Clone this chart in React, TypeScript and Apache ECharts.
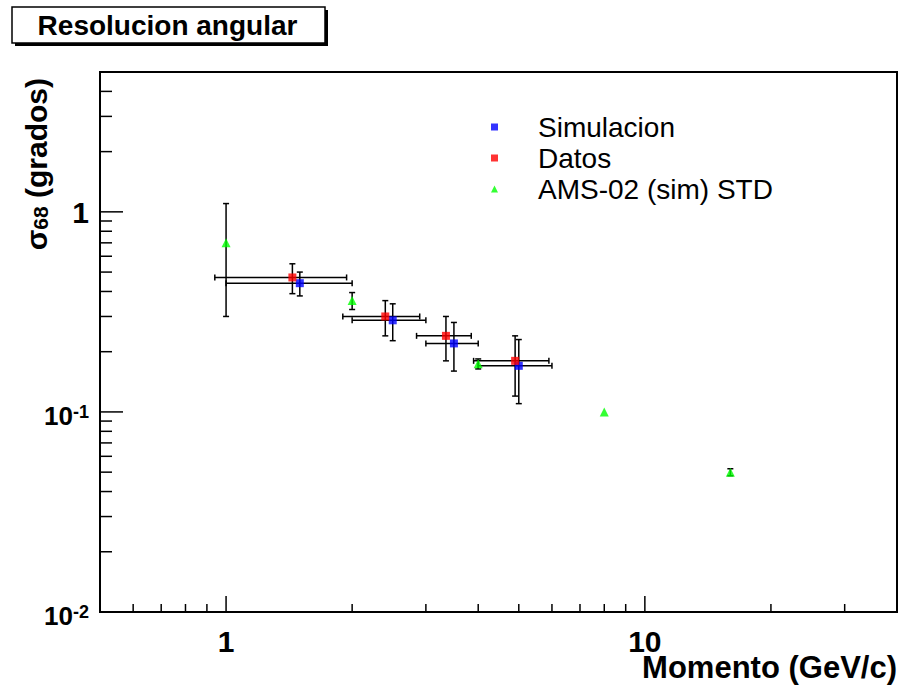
import React, { useEffect, useRef } from 'react';
import * as echarts from 'echarts';

// Axis ranges
const X_MIN = 0.5;
const X_MAX = 40;
const Y_MIN = 0.01;
const Y_MAX = 5;

// Simulacion
const simX = [1.5, 2.5, 3.5, 5];
const simY = [0.44, 0.287, 0.22, 0.17];
const simEx = [0.5, 0.5, 0.5, 1];
const simEy = [0.06, 0.06, 0.06, 0.06];

// Datos
const datX = [1.44, 2.4, 3.35, 4.9];
const datY = [0.47, 0.3, 0.24, 0.18];
const datEx = [0.5, 0.5, 0.5, 1.0];
const datEy = [0.08, 0.06, 0.06, 0.06];

// AMS-02 (sim) STD
const amsX = [1, 2, 4, 8, 16];
const amsY = [0.7, 0.36, 0.174, 0.1, 0.05];
const amsEx = [0, 0, 0, 0, 0];
const amsEy = [0.4, 0.035, 0.01, 0, 0.002];

// Ticks and labels
const xMajorTicks = [1, 10];
const xMinorTicks = [0.6, 0.7, 0.8, 0.9, 2, 3, 4, 5, 6, 7, 8, 9, 20, 30];
const yMajorTicks = [0.01, 0.1, 1];
const yMinorTicks = [0.02, 0.03, 0.04, 0.05, 0.06, 0.07, 0.08, 0.09, 0.2, 0.3, 0.4, 0.5, 0.6, 0.7, 0.8, 0.9, 2, 3, 4];
const xLabelValues = [1, 10];
const xLabelTexts = ['1', '10'];
const yLabelValues = [1, 0.1, 0.01];
const yLabelTexts = ['{m|1}', '{n|10}{s|-1}', '{n|10}{s|-2}'];

const FONT = "'Liberation Sans', Arial, Helvetica, sans-serif";

const zip4 = (a: number[], b: number[], c: number[], d: number[]) => a.map((v, i) => [v, b[i], c[i], d[i]]);

const seg = (x1: number, y1: number, x2: number, y2: number) => ({
  type: 'line',
  shape: { x1, y1, x2, y2 },
  style: { stroke: '#000', lineWidth: 1.5 },
});

const errRender = (_params: any, api: any) => {
  const x = api.value(0);
  const y = api.value(1);
  const ex = api.value(2);
  const ey = api.value(3);
  const c = api.coord([x, y]);
  const cap = 3;
  const ch: any[] = [];
  if (ex > 0) {
    const l = api.coord([x - ex, y])[0];
    const r = api.coord([x + ex, y])[0];
    ch.push(seg(l, c[1], r, c[1]));
    ch.push(seg(l, c[1] - cap, l, c[1] + cap));
    ch.push(seg(r, c[1] - cap, r, c[1] + cap));
  }
  if (ey > 0) {
    const t = api.coord([x, y + ey])[1];
    const b = api.coord([x, y - ey])[1];
    ch.push(seg(c[0], t, c[0], b));
    ch.push(seg(c[0] - cap, t, c[0] + cap, t));
    ch.push(seg(c[0] - cap, b, c[0] + cap, b));
  }
  return { type: 'group', children: ch };
};

const xTickRender = (len: number) => (_p: any, api: any) => {
  const p = api.coord([api.value(0), api.value(1)]);
  return seg(p[0], p[1], p[0], p[1] - len);
};
const yTickRender = (len: number) => (_p: any, api: any) => {
  const p = api.coord([api.value(0), api.value(1)]);
  return seg(p[0], p[1], p[0] + len, p[1]);
};

const labelText = (text: string, x: number, y: number, align: string, rich?: any, size = 30) => ({
  type: 'text',
  x,
  y,
  style: {
    text,
    fontFamily: FONT,
    fontWeight: 'bold',
    fontSize: size,
    fill: '#000',
    align,
    verticalAlign: 'middle',
    textAlign: align,
    textVerticalAlign: 'middle',
    rich,
  },
});

const yRich = {
  m: { fontFamily: FONT, fontWeight: 'bold', fontSize: 30, fill: '#000' },
  n: { fontFamily: FONT, fontWeight: 'bold', fontSize: 26, fill: '#000' },
  s: { fontFamily: FONT, fontWeight: 'bold', fontSize: 18, fill: '#000', verticalAlign: 'top' },
};

const buildOption = () => ({
  animation: false,
  backgroundColor: '#fff',
  grid: {
    left: 100,
    right: 5,
    top: 72,
    bottom: 73,
    show: true,
    borderColor: '#000',
    borderWidth: 2,
    backgroundColor: 'transparent',
    containLabel: false,
    outerBoundsMode: 'none',
  },
  xAxis: {
    type: 'log',
    logBase: 10,
    min: X_MIN,
    max: X_MAX,
    axisLine: { show: false },
    axisTick: { show: false },
    axisLabel: { show: false },
    splitLine: { show: false },
  },
  yAxis: {
    type: 'log',
    logBase: 10,
    min: Y_MIN,
    max: Y_MAX,
    axisLine: { show: false },
    axisTick: { show: false },
    axisLabel: { show: false },
    splitLine: { show: false },
  },
  legend: {
    orient: 'vertical',
    left: 486,
    top: 108,
    itemWidth: 7,
    itemHeight: 7,
    itemGap: 3,
    selectedMode: false,
    data: ['Simulacion', 'Datos', 'AMS-02 (sim) STD'],
    textStyle: { fontFamily: FONT, fontSize: 28, color: '#000', padding: [0, 0, 0, 35] },
  },
  graphic: [
    { type: 'rect', z: 10, shape: { x: 15, y: 10, width: 313, height: 36 }, style: { fill: '#000' } },
    { type: 'rect', z: 11, shape: { x: 12, y: 7, width: 313, height: 36 }, style: { fill: '#fff', stroke: '#000', lineWidth: 1.5 } },
    {
      type: 'text',
      z: 12,
      x: 167.5,
      y: 25,
      style: {
        text: 'Resolucion angular',
        font: `bold 28px ${FONT}`,
        fill: '#000',
        align: 'center',
        verticalAlign: 'middle',
        textAlign: 'center',
        textVerticalAlign: 'middle',
      },
    },
    {
      type: 'text',
      z: 12,
      x: 897,
      y: 667,
      style: {
        text: 'Momento (GeV/c)',
        font: `bold 31px ${FONT}`,
        fill: '#000',
        align: 'right',
        verticalAlign: 'middle',
        textAlign: 'right',
        textVerticalAlign: 'middle',
      },
    },
    {
      type: 'text',
      z: 12,
      x: 36,
      y: 78,
      rotation: Math.PI / 2,
      style: {
        text: '{a|σ}{b|68}{a| (grados)}',
        fill: '#000',
        align: 'right',
        verticalAlign: 'middle',
        textAlign: 'right',
        textVerticalAlign: 'middle',
        rich: {
          a: { fontFamily: FONT, fontWeight: 'bold', fontSize: 30, fill: '#000' },
          b: { fontFamily: FONT, fontWeight: 'bold', fontSize: 21, fill: '#000', verticalAlign: 'bottom' },
        },
      },
    },
  ],
  series: [
    // error bars
    { type: 'custom', name: 'errSim', silent: true, z: 3, data: zip4(simX, simY, simEx, simEy), renderItem: errRender },
    { type: 'custom', name: 'errDat', silent: true, z: 3, data: zip4(datX, datY, datEx, datEy), renderItem: errRender },
    { type: 'custom', name: 'errAms', silent: true, z: 3, data: zip4(amsX, amsY, amsEx, amsEy), renderItem: errRender },
    // markers
    {
      type: 'scatter',
      name: 'Simulacion',
      z: 5,
      symbol: 'rect',
      symbolSize: 8,
      itemStyle: { color: '#0000ff' },
      data: simX.map((x, i) => [x, simY[i]]),
    },
    {
      type: 'scatter',
      name: 'Datos',
      z: 5,
      symbol: 'rect',
      symbolSize: 8,
      itemStyle: { color: '#ff0000' },
      data: datX.map((x, i) => [x, datY[i]]),
    },
    {
      type: 'scatter',
      name: 'AMS-02 (sim) STD',
      z: 5,
      symbol: 'triangle',
      symbolSize: 9,
      itemStyle: { color: '#00ff00' },
      data: amsX.map((x, i) => [x, amsY[i]]),
    },
    // axis ticks
    { type: 'custom', name: 'xMajor', silent: true, z: 4, data: xMajorTicks.map((v) => [v, Y_MIN]), renderItem: xTickRender(16) },
    { type: 'custom', name: 'xMinor', silent: true, z: 4, data: xMinorTicks.map((v) => [v, Y_MIN]), renderItem: xTickRender(8) },
    { type: 'custom', name: 'yMajor', silent: true, z: 4, data: yMajorTicks.map((v) => [X_MIN, v]), renderItem: yTickRender(23) },
    { type: 'custom', name: 'yMinor', silent: true, z: 4, data: yMinorTicks.map((v) => [X_MIN, v]), renderItem: yTickRender(12) },
    // axis labels
    {
      type: 'custom',
      name: 'xLabels',
      silent: true,
      z: 4,
      data: xLabelValues.map((v) => [v, Y_MIN]),
      renderItem: (params: any, api: any) => {
        const p = api.coord([api.value(0), api.value(1)]);
        return labelText(xLabelTexts[params.dataIndex], p[0], p[1] + 29, 'center');
      },
    },
    {
      type: 'custom',
      name: 'yLabels',
      silent: true,
      z: 4,
      data: yLabelValues.map((v) => [X_MIN, v]),
      renderItem: (params: any, api: any) => {
        const p = api.coord([api.value(0), api.value(1)]);
        const off = params.dataIndex === 0 ? 1 : 4;
        return labelText(yLabelTexts[params.dataIndex], p[0] - 11, p[1] + off, 'right', yRich);
      },
    },
  ],
});

export default function App() {
  const ref = useRef<HTMLDivElement>(null);
  useEffect(() => {
    if (!ref.current) return;
    const chart = echarts.init(ref.current, null, { renderer: 'svg' });
    chart.setOption(buildOption() as any);
    return () => chart.dispose();
  }, []);
  return (
    <div
      ref={ref}
      style={{ position: 'fixed', left: 0, top: 0, width: 902, height: 685, background: '#fff' }}
    />
  );
}
